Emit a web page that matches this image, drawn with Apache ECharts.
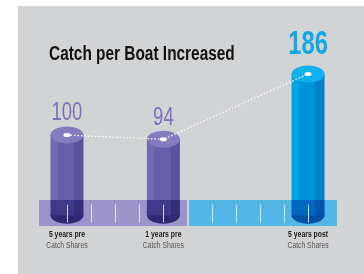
<!DOCTYPE html>
<html>
<head>
<meta charset="utf-8">
<script src="https://cdn.jsdelivr.net/npm/echarts@6/dist/echarts.min.js"></script>
<style>
  html, body { margin: 0; padding: 0; background: #fff; }
  #main { width: 364px; height: 274px; }
</style>
</head>
<body>
<div id="main"></div>
<script>
// data
const periods = ["5 years pre", "1 years pre", "5 years post"];
const periodSub = ["Catch Shares", "Catch Shares", "Catch Shares"];
const yearOffsets = [-5, -1, 5];
const catchIndex = [100, 94, 186];
const tickYears = [-5, -4, -3, -2, -1, 1, 2, 3, 4, 5];

// no condensed font installed, so text gets squeezed with scaleX
const FONT = '"Liberation Sans", Arial, sans-serif';
const BAND_TOP = 8.5;
const BAND_BOTTOM = -28;
const BASE = -12.7; // bottom of the cylinders

const palette = {
  pre: { top: "#857cc0", l: "#7369b2", m: "#675eaa", r: "#5a529e", lowL: "#403989", lowR: "#342d7a", bot: "#2f2973", label: "#7a70b7" },
  post: { top: "#12b1ee", l: "#00a4e4", m: "#0093d8", r: "#0081c6", lowL: "#0068c2", lowR: "#0056ae", bot: "#0050a8", label: "#12a8e2" },
};

function stripes(l, m, r) {
  return new echarts.graphic.LinearGradient(0, 0, 1, 0, [
    { offset: 0, color: l },
    { offset: 0.22, color: l },
    { offset: 0.22, color: m },
    { offset: 0.72, color: m },
    { offset: 0.72, color: r },
    { offset: 1, color: r },
  ]);
}

function renderCylinder(params, api) {
  const x = api.value(0);
  const top = api.coord([x, api.value(1)]);
  const mid = api.coord([x, BAND_TOP]);
  const bot = api.coord([x, BASE]);
  const c = x < 0 ? palette.pre : palette.post;
  const w = 33, ry = 8.5;
  return {
    type: "group",
    children: [
      { type: "ellipse", shape: { cx: bot[0], cy: bot[1], rx: w / 2, ry: ry }, style: { fill: c.bot } },
      { type: "rect", shape: { x: bot[0] - w / 2, y: mid[1], width: w, height: bot[1] - mid[1] }, style: { fill: stripes(c.lowL, c.lowL, c.lowR) } },
      { type: "rect", shape: { x: top[0] - w / 2, y: top[1], width: w, height: mid[1] - top[1] }, style: { fill: stripes(c.l, c.m, c.r) } },
      { type: "ellipse", shape: { cx: top[0], cy: top[1], rx: w / 2, ry: ry }, style: { fill: c.top } },
    ],
  };
}

function renderBand(params, api) {
  const side = api.value(0);
  const cs = params.coordSys;
  const a = api.coord([0, BAND_TOP]);
  const b = api.coord([0, BAND_BOTTOM]);
  const x0 = side < 0 ? cs.x : a[0] + 1.5;
  const x1 = side < 0 ? a[0] - 0.5 : cs.x + cs.width;
  return {
    type: "rect",
    shape: { x: x0, y: a[1], width: x1 - x0, height: b[1] - a[1] },
    style: { fill: side < 0 ? "#9b93c9" : "#52b6e6" },
  };
}

function renderTick(params, api) {
  const p0 = api.coord([api.value(0), 2]);
  const p1 = api.coord([api.value(0), -23]);
  return {
    type: "line",
    shape: { x1: Math.round(p0[0]) + 0.5, y1: p0[1], x2: Math.round(p0[0]) + 0.5, y2: p1[1] },
    style: { stroke: "rgba(255,255,255,0.8)", lineWidth: 1 },
  };
}

function squeezed(x, y, text, size, weight, color, sx) {
  return {
    type: "text",
    x: x,
    y: y,
    scaleX: sx,
    style: { text: text, fontFamily: FONT, fontSize: size, fontWeight: weight, fill: color, align: "center", verticalAlign: "middle" },
  };
}

function renderLabels(params, api) {
  const i = params.dataIndex;
  const x = api.value(0);
  const top = api.coord([x, api.value(1)]);
  const foot = api.coord([x, BAND_BOTTOM]);
  const post = x > 0;
  return {
    type: "group",
    children: [
      post
        ? squeezed(top[0], top[1] - 29, String(catchIndex[i]), 34, "bold", palette.post.label, 0.7)
        : squeezed(top[0], top[1] - 21.5, String(catchIndex[i]), 25, "normal", palette.pre.label, 0.74),
      squeezed(foot[0], foot[1] + 9, periods[i], 9, "bold", "#1a1a1a", 0.76),
      squeezed(foot[0], foot[1] + 20, periodSub[i], 8.5, "normal", "#555", 0.8),
    ],
  };
}

const chart = echarts.init(document.getElementById("main"));
chart.setOption({
  animation: false,
  backgroundColor: "#fff",
  graphic: [
    { type: "rect", z: -10, shape: { x: 18, y: 6, width: 346, height: 268 }, style: { fill: "#d2d3d5" } },
    {
      type: "text",
      x: 49,
      y: 55,
      scaleX: 0.79,
      style: { text: "Catch per Boat Increased", fontFamily: FONT, fontWeight: "bold", fontSize: 19.5, fill: "#111", verticalAlign: "middle" },
    },
  ],
  grid: { left: 39, right: 27, top: 64, bottom: 48 },
  xAxis: { type: "value", min: -6.16, max: 6.2, show: false },
  yAxis: { type: "value", min: BAND_BOTTOM, max: 200, show: false },
  series: [
    { type: "custom", z: 1, silent: true, renderItem: renderBand, data: [[-1], [1]] },
    { type: "custom", z: 2, silent: true, renderItem: renderCylinder, data: yearOffsets.map((x, i) => [x, catchIndex[i]]) },
    { type: "custom", z: 3, silent: true, renderItem: renderTick, data: tickYears.map((x) => [x]) },
    {
      type: "line",
      z: 4,
      silent: true,
      symbol: "circle",
      symbolSize: [7, 4],
      itemStyle: { color: "#fff" },
      lineStyle: { color: "#fff", width: 1.3, type: [1.5, 2] },
      data: yearOffsets.map((x, i) => [x, catchIndex[i]]),
    },
    { type: "custom", z: 5, silent: true, renderItem: renderLabels, data: yearOffsets.map((x, i) => [x, catchIndex[i]]) },
  ],
});
</script>
</body>
</html>
